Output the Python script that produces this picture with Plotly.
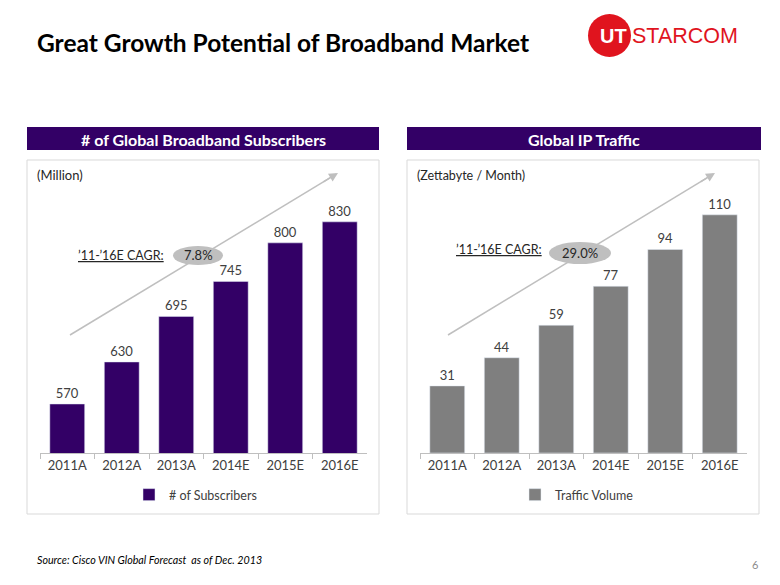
import plotly.graph_objects as go

W, H = 780, 585
OFF = 8  # page body margin in the browser

years = ["2011A", "2012A", "2013A", "2014E", "2015E", "2016E"]
subscribers = [570, 630, 695, 745, 800, 830]
traffic = [31, 44, 59, 77, 94, 110]

title_text = "Great Growth Potential of Broadband Market"
left_header = "# of Global Broadband Subscribers"
right_header = "Global IP Traffic"
left_unit = "(Million)"
right_unit = "(Zettabyte / Month)"
left_cagr = "7.8%"
right_cagr = "29.0%"
cagr_label = "<u>\u201911-\u201916E CAGR:</u>"
source_text = "Source: Cisco VIN Global Forecast  as of Dec. 2013"

PURPLE = "#330066"
GREY_BAR = "#7f7f7f"
TXT = "#404040"
FONT = "Lato"


def px(x):
    return (x - OFF) / W


def py(y):
    return 1 - (y - OFF) / H


fig = go.Figure()
fig.add_trace(go.Bar(
    x=years, y=subscribers, name="# of Subscribers", marker_color=PURPLE,
    text=subscribers, textposition="outside", cliponaxis=False,
    textfont=dict(size=13, color=TXT, family=FONT),
    xaxis="x", yaxis="y", legend="legend",
))
fig.add_trace(go.Bar(
    x=years, y=traffic, name="Traffic Volume", marker_color=GREY_BAR,
    text=traffic, textposition="outside", cliponaxis=False,
    textfont=dict(size=13, color=TXT, family=FONT),
    xaxis="x2", yaxis="y2", legend="legend2",
))

ydom = [py(453), py(170)]
xcommon = dict(type="category", showline=True, linecolor="#bfbfbf", linewidth=1,
               ticks="outside", tickson="boundaries", ticklen=5, tickcolor="#bfbfbf",
               tickfont=dict(size=13, color=TXT, family=FONT), showgrid=False,
               fixedrange=True)
fig.update_layout(
    width=W, height=H, margin=dict(l=0, r=0, t=0, b=0),
    paper_bgcolor="white", plot_bgcolor="rgba(0,0,0,0)",
    font=dict(family=FONT, color=TXT),
    bargap=0.36,
    xaxis=dict(domain=[px(40), px(367)], anchor="y", **xcommon),
    yaxis=dict(domain=ydom, range=[500, 904], visible=False),
    xaxis2=dict(domain=[px(420), px(747)], anchor="y2", **xcommon),
    yaxis2=dict(domain=ydom, range=[0, 130.7], visible=False),
    legend=dict(x=px(129), y=py(495), xanchor="left", yanchor="middle",
                font=dict(size=12.5, color=TXT, family=FONT), bgcolor="rgba(0,0,0,0)"),
    legend2=dict(x=px(515), y=py(495), xanchor="left", yanchor="middle",
                 font=dict(size=12.5, color=TXT, family=FONT), bgcolor="rgba(0,0,0,0)"),
    showlegend=True,
)

shapes = []
# header bars
for x0, x1 in [(27, 379), (407, 761)]:
    shapes.append(dict(type="rect", xref="paper", yref="paper", x0=px(x0), x1=px(x1),
                       y0=py(150), y1=py(127), fillcolor=PURPLE, line=dict(width=0), layer="below"))
# chart boxes
for x0, x1 in [(27, 379), (407, 759)]:
    shapes.append(dict(type="rect", xref="paper", yref="paper", x0=px(x0), x1=px(x1),
                       y0=py(514), y1=py(160), fillcolor="rgba(0,0,0,0)",
                       line=dict(color="#d9d9d9", width=1), layer="below"))
# trend arrow lines (under the ellipses)
arrows = [(338, 173, 70, 335), (715, 173, 448, 335)]
for (hx, hy, tx, ty) in arrows:
    shapes.append(dict(type="line", xref="paper", yref="paper",
                       x0=px(tx), y0=py(ty), x1=px(hx - 0.03 * (hx - tx)), y1=py(hy - 0.03 * (hy - ty)),
                       line=dict(color="#bfbfbf", width=1.5), layer="above"))
# CAGR ellipses
shapes.append(dict(type="circle", xref="paper", yref="paper", x0=px(173), x1=px(223),
                   y0=py(265), y1=py(246), fillcolor="#bfbfbf", line=dict(width=0), layer="above"))
shapes.append(dict(type="circle", xref="paper", yref="paper", x0=px(549), x1=px(611),
                   y0=py(264), y1=py(242), fillcolor="#bfbfbf", line=dict(width=0), layer="above"))
# logo circle
shapes.append(dict(type="circle", xref="paper", yref="paper", x0=px(588), x1=px(631),
                   y0=py(57), y1=py(14), fillcolor="#e0141e", line=dict(width=0)))

ann = []
ann.append(dict(text=f"<b>{title_text}</b>", x=px(35), y=py(42), xref="paper", yref="paper",
                xanchor="left", yanchor="middle", showarrow=False,
                font=dict(size=24.5, color="#000000", family=FONT)))
ann.append(dict(text=f"<b>{left_header}</b>", x=px(203), y=py(139), xref="paper", yref="paper",
                xanchor="center", yanchor="middle", showarrow=False,
                font=dict(size=16, color="white", family=FONT)))
ann.append(dict(text=f"<b>{right_header}</b>", x=px(584), y=py(139), xref="paper", yref="paper",
                xanchor="center", yanchor="middle", showarrow=False,
                font=dict(size=16, color="white", family=FONT)))
ann.append(dict(text=left_unit, x=px(35), y=py(175), xref="paper", yref="paper",
                xanchor="left", yanchor="middle", showarrow=False,
                font=dict(size=13, color="#262626", family=FONT)))
ann.append(dict(text=right_unit, x=px(415), y=py(175), xref="paper", yref="paper",
                xanchor="left", yanchor="middle", showarrow=False,
                font=dict(size=12.5, color="#262626", family=FONT)))
# arrowheads
for (hx, hy, tx, ty) in arrows:
    ann.append(dict(text="", x=px(hx), y=py(hy), xref="paper", yref="paper",
                    ax=-0.06 * (hx - tx), ay=-0.06 * (hy - ty), showarrow=True, arrowhead=2,
                    arrowsize=1.2, arrowwidth=1.5, arrowcolor="#bfbfbf"))
# CAGR labels
ann.append(dict(text=cagr_label, x=px(166), y=py(255), xref="paper", yref="paper",
                xanchor="right", yanchor="middle", showarrow=False,
                font=dict(size=12.5, color="#262626", family=FONT)))
ann.append(dict(text=left_cagr, x=px(198), y=py(255), xref="paper", yref="paper",
                xanchor="center", yanchor="middle", showarrow=False,
                font=dict(size=13, color="#262626", family=FONT)))
ann.append(dict(text=cagr_label, x=px(544), y=py(250), xref="paper", yref="paper",
                xanchor="right", yanchor="middle", showarrow=False,
                font=dict(size=12.5, color="#262626", family=FONT)))
ann.append(dict(text=right_cagr, x=px(580), y=py(253), xref="paper", yref="paper",
                xanchor="center", yanchor="middle", showarrow=False,
                font=dict(size=13, color="#262626", family=FONT)))
# source / page
ann.append(dict(text=f"<i>{source_text}</i>", x=px(35), y=py(559), xref="paper", yref="paper",
                xanchor="left", yanchor="middle", showarrow=False,
                font=dict(size=10.7, color="#000000", family=FONT)))
ann.append(dict(text="6", x=px(755), y=py(564), xref="paper", yref="paper",
                xanchor="center", yanchor="middle", showarrow=False,
                font=dict(size=11, color="#8c8c8c", family=FONT)))
# logo text
ann.append(dict(text="<b>UT</b>", x=px(598), y=py(36), xref="paper", yref="paper",
                xanchor="left", yanchor="middle", showarrow=False,
                font=dict(size=20, color="white", family="Liberation Sans")))
ann.append(dict(text="STARCOM", x=px(630), y=py(36), xref="paper", yref="paper",
                xanchor="left", yanchor="middle", showarrow=False,
                font=dict(size=21.5, color="#e0141e", family="Liberation Sans")))

fig.update_layout(shapes=shapes, annotations=ann)
fig.write_html("out.html")
